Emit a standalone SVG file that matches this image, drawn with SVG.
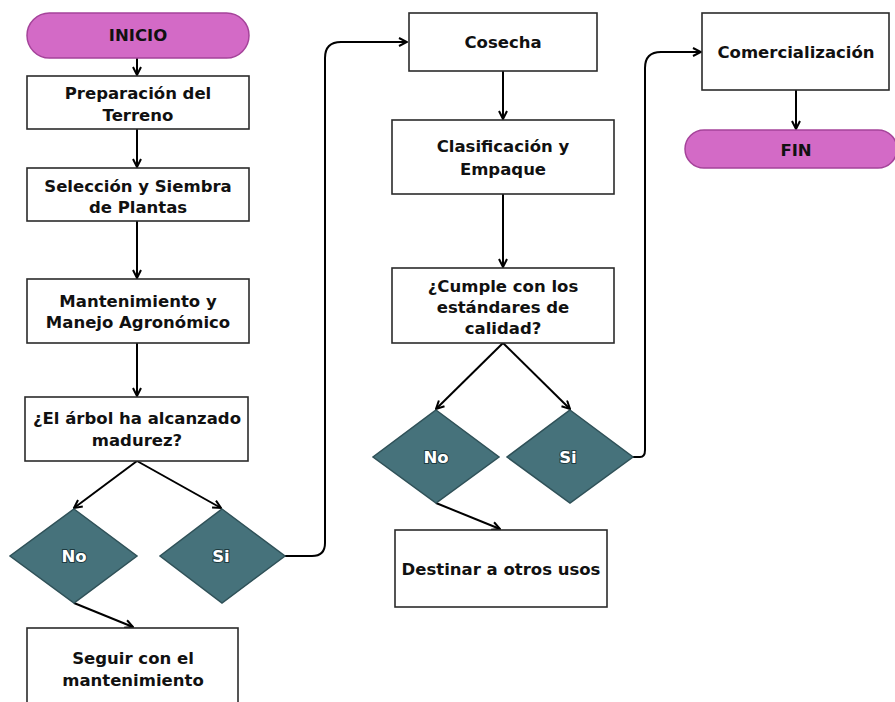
<svg xmlns="http://www.w3.org/2000/svg" width="895" height="702" viewBox="0 0 895 702">
<style>
.box{fill:#fff;stroke:#2b2b2b;stroke-width:1.6}
.pill{fill:#d36ac6;stroke:#a5439a;stroke-width:1.5}
.dia{fill:#46727b;stroke:#2f5158;stroke-width:1.5}
.t{font-family:"DejaVu Sans","Liberation Sans",sans-serif;font-weight:bold;font-size:16.5px;fill:#111;text-anchor:middle}
.w{fill:#fff;stroke:#1e3a40;stroke-width:2;paint-order:stroke}
.c{fill:none;stroke:#000;stroke-width:2}
</style>
<defs>
<marker id="ar" viewBox="0 0 10 10" refX="9" refY="5" markerWidth="5" markerHeight="5" orient="auto" markerUnits="strokeWidth">
<path d="M1,1 L9,5 L1,9" fill="none" stroke="#000" stroke-width="2"/>
</marker>
</defs>
<rect width="895" height="702" fill="#fff"/>
<g id="connectors">
<path class="c" d="M137,58 V75" marker-end="url(#ar)"/>
<path class="c" d="M137,129 V167" marker-end="url(#ar)"/>
<path class="c" d="M137,221 V278" marker-end="url(#ar)"/>
<path class="c" d="M137,343 V396" marker-end="url(#ar)"/>
<path class="c" d="M137,461 L74,508" marker-end="url(#ar)"/>
<path class="c" d="M137,461 L221,508" marker-end="url(#ar)"/>
<path class="c" d="M74,603 L133,627" marker-end="url(#ar)"/>
<path class="c" d="M285,556 H312 Q325,556 325,543 V58 Q325,42 341,42 H407" marker-end="url(#ar)"/>
<path class="c" d="M503,71 V119" marker-end="url(#ar)"/>
<path class="c" d="M503,194 V267" marker-end="url(#ar)"/>
<path class="c" d="M503,343 L436,409" marker-end="url(#ar)"/>
<path class="c" d="M503,343 L570,409" marker-end="url(#ar)"/>
<path class="c" d="M436,503 L500,529" marker-end="url(#ar)"/>
<path class="c" d="M633,457 H640 Q645,457 645,450 V68 Q645,52 661,52 H701" marker-end="url(#ar)"/>
<path class="c" d="M796,90 V129" marker-end="url(#ar)"/>
</g>
<g id="inicio">
<rect class="pill" x="27" y="13" width="222" height="45" rx="22.5"/>
<text class="t" x="138" y="41">INICIO</text>
</g>
<g id="preparacion">
<rect class="box" x="27" y="76" width="222" height="53"/>
<text class="t" x="138" y="99">Preparación del</text>
<text class="t" x="138" y="121">Terreno</text>
</g>
<g id="seleccion">
<rect class="box" x="27" y="168" width="222" height="53"/>
<text class="t" x="138" y="192">Selección y Siembra</text>
<text class="t" x="138" y="213">de Plantas</text>
</g>
<g id="mantenimiento">
<rect class="box" x="27" y="279" width="222" height="64"/>
<text class="t" x="138" y="307">Mantenimiento y</text>
<text class="t" x="138" y="328">Manejo Agronómico</text>
</g>
<g id="arbol">
<rect class="box" x="25" y="397" width="223" height="64"/>
<text class="t" x="137" y="424">¿El árbol ha alcanzado</text>
<text class="t" x="137" y="446">madurez?</text>
</g>
<g id="no1">
<polygon class="dia" points="74,509 137,556 74,603 10,556"/>
<text class="t w" x="74" y="562">No</text>
</g>
<g id="si1">
<polygon class="dia" points="222,509 285,556 222,603 160,556"/>
<text class="t w" x="221" y="562">Si</text>
</g>
<g id="seguir">
<rect class="box" x="27" y="628" width="211" height="80"/>
<text class="t" x="133" y="664">Seguir con el</text>
<text class="t" x="133" y="686">mantenimiento</text>
</g>
<g id="cosecha">
<rect class="box" x="409" y="13" width="188" height="58"/>
<text class="t" x="503" y="48">Cosecha</text>
</g>
<g id="clasificacion">
<rect class="box" x="392" y="120" width="222" height="74"/>
<text class="t" x="503" y="152">Clasificación y</text>
<text class="t" x="503" y="175">Empaque</text>
</g>
<g id="cumple">
<rect class="box" x="392" y="268" width="222" height="75"/>
<text class="t" x="503" y="292">¿Cumple con los</text>
<text class="t" x="503" y="313">estándares de</text>
<text class="t" x="503" y="334">calidad?</text>
</g>
<g id="no2">
<polygon class="dia" points="436,410 499,457 436,503 373,457"/>
<text class="t w" x="436" y="463">No</text>
</g>
<g id="si2">
<polygon class="dia" points="570,410 633,457 570,503 507,457"/>
<text class="t w" x="568" y="463">Si</text>
</g>
<g id="destinar">
<rect class="box" x="395" y="530" width="212" height="77"/>
<text class="t" x="501" y="575">Destinar a otros usos</text>
</g>
<g id="comercializacion">
<rect class="box" x="702" y="13" width="187" height="77"/>
<text class="t" x="796" y="58">Comercialización</text>
</g>
<g id="fin">
<rect class="pill" x="685" y="130" width="212" height="38" rx="19"/>
<text class="t" x="796" y="156">FIN</text>
</g>
</svg>
